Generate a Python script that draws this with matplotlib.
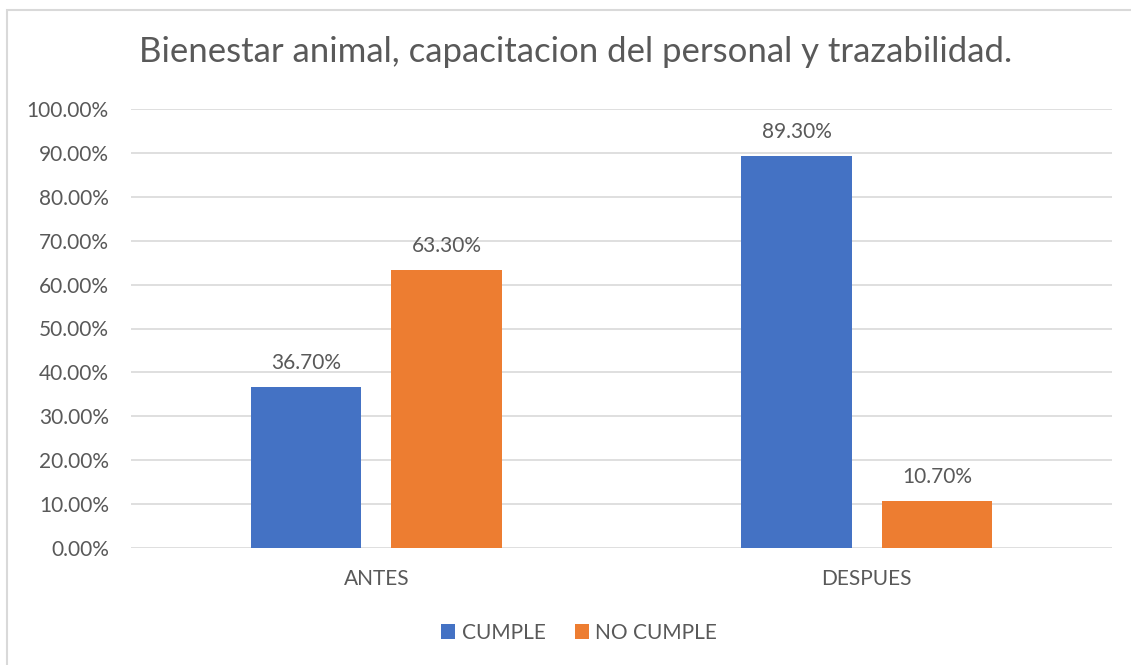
import numpy as np
import matplotlib.pyplot as plt
from matplotlib.patches import Rectangle

plt.rcParams['font.family'] = ['Lato', 'DejaVu Sans']

categories = ['ANTES', 'DESPUES']
cumple = [0.367, 0.893]
no_cumple = [0.633, 0.107]
series_names = ['CUMPLE', 'NO CUMPLE']
colors = ['#4472C4', '#ED7D31']
txt = '#595959'

fig = plt.figure(figsize=(11.31, 6.65), dpi=100)
# chart border
fig.patches.append(Rectangle((7 / 1131, -0.1), 1.2, 1 - 10 / 665 + 0.1, transform=fig.transFigure,
                             fill=False, edgecolor='#D9D9D9', linewidth=1.5))

ax = fig.add_axes([131 / 1131, 1 - 548 / 665, 981 / 1131, 439 / 665])
x = np.arange(len(categories))
w = 0.225
off = 0.143
for vals, sign, c, name in zip([cumple, no_cumple], [-1, 1], colors, series_names):
    bars = ax.bar(x + sign * off, vals, w, color=c, label=name, zorder=3)
    for b, v in zip(bars, vals):
        ax.annotate(f'{v * 100:.2f}%', (b.get_x() + b.get_width() / 2, v), xytext=(0, 13),
                    textcoords='offset points', ha='center', va='baseline', fontsize=15, color=txt)

ax.set_xlim(-0.5, 1.5)
ax.set_ylim(0, 1)
yt = np.arange(0, 1.01, 0.1)
ax.set_yticks(yt)
ax.set_yticklabels([f'{v * 100:.2f}%' for v in yt], fontsize=15, color=txt)
ax.set_xticks(x)
ax.set_xticklabels(categories, fontsize=15, color=txt)
ax.tick_params(length=0, pad=16)
ax.tick_params(axis='x', pad=15)
ax.grid(axis='y', color='#D9D9D9', linewidth=1.2, zorder=0)
for s in ax.spines.values():
    s.set_visible(False)

fig.text(576 / 1131, 1 - 52 / 665, 'Bienestar animal, capacitacion del personal y trazabilidad.', ha='center',
         va='center', fontsize=25, color=txt)
fig.legend(loc='center', bbox_to_anchor=(579 / 1131, 1 - 633 / 665), ncol=2, frameon=False, fontsize=15,
           handlelength=0.7, handleheight=0.7, handletextpad=0.3, columnspacing=1.4, labelcolor=txt)

fig.savefig('out.png', dpi=100)
